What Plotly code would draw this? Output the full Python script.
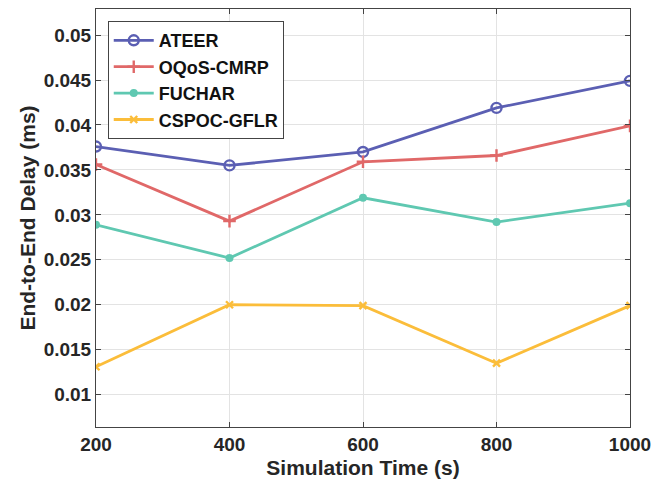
import plotly.graph_objects as go

time_s = [200, 400, 600, 800, 1000]
ateer = [0.0376, 0.0355, 0.0370, 0.0419, 0.0449]
oqos_cmrp = [0.0356, 0.0293, 0.0359, 0.0366, 0.0399]
fuchar = [0.0289, 0.0252, 0.0319, 0.0292, 0.0313]
cspoc_gflr = [0.0131, 0.0200, 0.0199, 0.0135, 0.0199]

x_tick_labels = ["200", "400", "600", "800", "1000"]
y_ticks = [0.01, 0.015, 0.02, 0.025, 0.03, 0.035, 0.04, 0.045, 0.05]
y_tick_labels = ["0.01", "0.015", "0.02", "0.025", "0.03", "0.035", "0.04", "0.045", "0.05"]

series = [
    ("ATEER", ateer, "#5b5fb3", dict(symbol="circle-open", size=10, lw=2.4)),
    ("OQoS-CMRP", oqos_cmrp, "#e06868", dict(symbol="cross-thin-open", size=9, lw=2.4)),
    ("FUCHAR", fuchar, "#5fc8b1", dict(symbol="circle", size=8, lw=0)),
    ("CSPOC-GFLR", cspoc_gflr, "#fbbd3a", dict(symbol="x-thin-open", size=7, lw=2.4)),
]

fig = go.Figure()
for name, vals, color, mk in series:
    fig.add_trace(go.Scatter(
        x=time_s, y=vals, name="<b>" + name + "</b>", mode="lines+markers",
        line=dict(color=color, width=2.8),
        marker=dict(symbol=mk["symbol"], size=mk["size"], color=color,
                    line=dict(color=color, width=mk["lw"]))))

axis_common = dict(showline=True, linecolor="#444444", linewidth=1, mirror="ticks",
                   ticks="inside", ticklen=5, tickcolor="#444444",
                   showgrid=True, gridcolor="#e3e3e3", gridwidth=1, zeroline=False,
                   automargin=False,
                   tickfont=dict(family="Liberation Sans, Arial", size=19, color="#262626"))

fig.update_layout(
    width=653, height=489,
    margin=dict(l=96, r=23, t=9, b=62),
    paper_bgcolor="white", plot_bgcolor="white",
    font=dict(family="Liberation Sans, Arial", color="#262626"),
    xaxis=dict(range=[200, 1000], tickvals=time_s,
               ticktext=["<b>" + t + "</b>" for t in x_tick_labels],
               title=dict(text="<b>Simulation Time (s)</b>", font=dict(size=21), standoff=6),
               **axis_common),
    yaxis=dict(range=[0.0064, 0.0529], tickvals=y_ticks,
               ticktext=["<b>" + t + "</b>" for t in y_tick_labels],
               title=dict(text="<b>End-to-End Delay (ms)</b>", font=dict(size=21), standoff=2),
               **axis_common),
    legend=dict(x=0.022, y=0.971, xanchor="left", yanchor="top",
                bgcolor="white", bordercolor="#444444", borderwidth=1,
                font=dict(size=18, family="Liberation Sans, Arial", color="#111111"),
                itemwidth=40, tracegroupgap=0),
)

fig.write_html("out.html", config={"displayModeBar": False},
               post_script="document.body.style.margin='0px';")
